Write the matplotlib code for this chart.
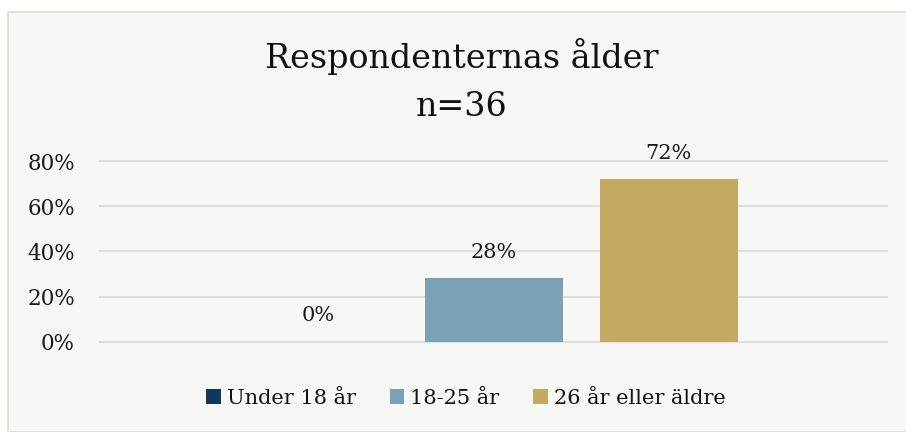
import matplotlib
matplotlib.use("Agg")
import matplotlib.pyplot as plt
from matplotlib.patches import Rectangle

series = ["Under 18 år", "18-25 år", "26 år eller äldre"]
values = [0.0, 0.28, 0.72]
labels = ["0%", "28%", "72%"]
colors = ["#0d3a5c", "#7ba2b4", "#c3a962"]
yticks = [0.0, 0.2, 0.4, 0.6, 0.8]
yticklabels = ["0%", "20%", "40%", "60%", "80%"]
title1 = "Respondenternas ålder"
title2 = "n=36"

W, H = 906, 432
fig = plt.figure(figsize=(W / 100, H / 100), dpi=100)
fig.patch.set_facecolor("white")
FONT = "DejaVu Serif"

# chart area background
bg = Rectangle((8 / W, 0), 1.2, (H - 12) / H, transform=fig.transFigure,
               facecolor="#f7f7f5", edgecolor="#d9d9d6", linewidth=1.2, zorder=-10)
fig.patches.append(bg)

ax = fig.add_axes([100 / W, (H - 341.7) / H, 787 / W, (341.7 - 161) / H])
ax.set_zorder(5)
ax.set_facecolor("none")
ax.set_ylim(0, 0.8)
ax.set_xlim(-0.5, 0.5)
step = 175 / 787
width = 138 / 787
for i, (s, v, lab, c) in enumerate(zip(series, values, labels, colors)):
    x = (i - 1) * step
    ax.bar(x, v, width=width, color=c, label=s, zorder=3)
    ax.annotate(lab, (x, v), xytext=(0, 26), textcoords="offset pixels",
                ha="center", va="center", fontsize=15, family=FONT, color="#1a1a1a",
                annotation_clip=False)

ax.set_yticks(yticks)
ax.set_yticklabels(yticklabels, family=FONT, fontsize=15.5, color="#1a1a1a")
ax.tick_params(axis="y", length=0, pad=18)
ax.set_xticks([])
for sp in ax.spines.values():
    sp.set_visible(False)
ax.yaxis.grid(True, color="#dededa", linewidth=1.5, zorder=0)
ax.set_axisbelow(True)
for gl in ax.get_ygridlines():
    gl.set_clip_on(False)

fig.text(462 / W, 1 - 56.5 / H, title1, ha="center", va="center",
         family=FONT, fontsize=24, color="#111111")
fig.text(462 / W, 1 - 106.5 / H, title2, ha="center", va="center",
         family=FONT, fontsize=24, color="#111111")

leg = fig.legend(*ax.get_legend_handles_labels(), loc="center",
                 bbox_to_anchor=(466 / W, 1 - 398 / H), ncol=3, frameon=False,
                 prop={"family": FONT, "size": 15}, handlelength=0.7, handleheight=0.7,
                 handletextpad=0.3, columnspacing=1.6)
for t in leg.get_texts():
    t.set_color("#111111")

fig.savefig("out.png", dpi=100, facecolor="white")
